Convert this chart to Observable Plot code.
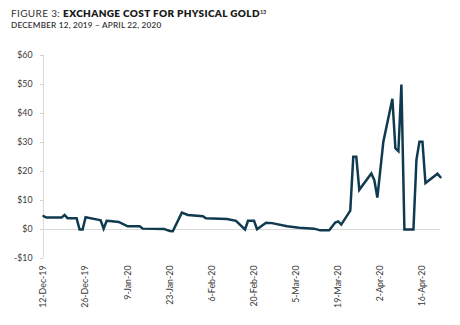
<!DOCTYPE html>
<html><head><meta charset="utf-8">
<script src="https://cdn.jsdelivr.net/npm/d3@7"></script>
<script src="https://cdn.jsdelivr.net/npm/@observablehq/plot@0.6"></script>
<style>
html,body{margin:0;padding:0;background:#fff;}
body{width:460px;height:325px;overflow:hidden;font-family:Lato,sans-serif;}
#head{position:relative;height:35px;}
#t1{position:absolute;left:11px;top:8.3px;font-size:10px;line-height:1;color:#1a1a1a;white-space:nowrap;letter-spacing:0.35px;}
#t1 .lead{font-weight:400;color:#333;}
#t1 b{font-weight:800;}
#t1 sup{font-size:5.5px;font-weight:700;vertical-align:3.5px;letter-spacing:0;}
#t2{position:absolute;left:11px;top:21px;font-size:8.2px;line-height:1;font-weight:600;color:#333;white-space:nowrap;letter-spacing:0.2px;}
#chart svg g[aria-label="y-axis tick"] path{stroke:#d0d0d0;}
</style>
</head><body>
<div id="head">
  <div id="t1"><span class="lead">FIGURE 3: </span><b>EXCHANGE COST FOR PHYSICAL GOLD</b><sup>13</sup></div>
  <div id="t2">DECEMBER 12, 2019 – APRIL 22, 2020</div>
</div>
<div id="chart"></div>
<script>
const dates = [
 "2019-12-12","2019-12-13","2019-12-18","2019-12-19","2019-12-20","2019-12-23","2019-12-24","2019-12-25","2019-12-26","2019-12-30","2019-12-31",
 "2020-01-01","2020-01-02","2020-01-03","2020-01-06","2020-01-09","2020-01-13","2020-01-14","2020-01-21","2020-01-23","2020-01-24","2020-01-27","2020-01-29",
 "2020-02-03","2020-02-04","2020-02-11","2020-02-14","2020-02-17","2020-02-18","2020-02-20","2020-02-21","2020-02-24","2020-02-26",
 "2020-03-02","2020-03-04","2020-03-06","2020-03-11","2020-03-13","2020-03-16","2020-03-18","2020-03-19","2020-03-20","2020-03-23","2020-03-24","2020-03-25","2020-03-26","2020-03-30","2020-03-31",
 "2020-04-01","2020-04-03","2020-04-06","2020-04-07","2020-04-08","2020-04-09","2020-04-10","2020-04-13","2020-04-14","2020-04-15","2020-04-16","2020-04-17","2020-04-21","2020-04-22"
];
const costs = [
 4.6,4.1,4.1,5.0,3.9,3.9,0,0,4.2,3.4,3.2,
 0.3,3.0,2.9,2.6,1.1,1.1,0.3,0.2,-0.5,-0.6,5.8,5.0,
 4.6,3.9,3.6,3.0,0,3.0,3.0,0.1,2.3,2.2,
 1.1,0.9,0.6,0.3,-0.3,-0.3,2.4,2.8,1.7,6.5,25.1,25.1,13.7,19.3,17.0,
 11.0,30.3,45.1,28.0,27.0,50.0,0,0,24.0,30.3,30.3,16.0,19.2,18.0
];
const xTicks = ["2019-12-12","2019-12-26","2020-01-09","2020-01-23","2020-02-06","2020-02-20","2020-03-05","2020-03-19","2020-04-02","2020-04-16"];
const yTicks = [-10,0,10,20,30,40,50,60];
const xStart = "2019-12-12", xEnd = "2020-04-22";

const parse = d3.utcParse("%Y-%m-%d");
const data = dates.map((d,i) => ({date: parse(d), cost: costs[i]}));
const fmtX = d3.utcFormat("%-d-%b-%y");
const fmtY = v => (v < 0 ? "-" : "") + "$" + Math.abs(v);

const chart = Plot.plot({
  width: 460, height: 290,
  marginLeft: 43, marginRight: 20, marginTop: 20, marginBottom: 67,
  style: {fontFamily: "Lato, sans-serif", fontSize: "8.8px", color: "#3a3a3a", background: "white"},
  x: {type: "utc", domain: [parse(xStart), parse(xEnd)], ticks: xTicks.map(parse), tickFormat: fmtX,
      tickRotate: -90, tickSize: 0, tickPadding: 7, label: null},
  y: {domain: [-10, 60], ticks: yTicks, tickFormat: fmtY, tickSize: 3, tickPadding: 8, label: null},
  marks: [
    Plot.ruleY([0], {stroke: "#d9d9d9", strokeWidth: 1}),
    Plot.ruleX([parse(xStart)], {stroke: "#d9d9d9", strokeWidth: 1}),
    Plot.lineY(data, {x: "date", y: "cost", stroke: "#0f3a4f", strokeWidth: 2.5, strokeLinejoin: "miter", strokeMiterlimit: 4})
  ]
});
document.getElementById("chart").appendChild(chart);
</script>
</body></html>
